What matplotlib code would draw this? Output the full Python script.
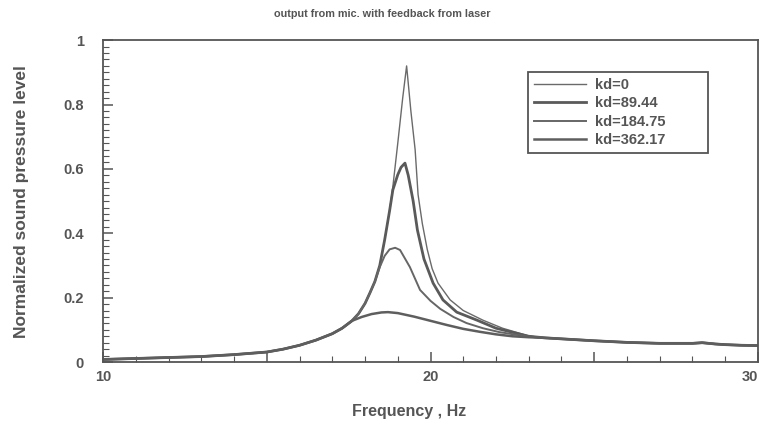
import matplotlib.pyplot as plt
from matplotlib.ticker import MultipleLocator, FixedLocator

# common low-frequency rise shared by all curves
base_f = [10.0, 11.0, 12.0, 13.0, 14.0, 15.0, 15.5, 16.0, 16.5, 17.0, 17.3, 17.6]
base_y = [0.008, 0.011, 0.014, 0.017, 0.023, 0.031, 0.040, 0.052, 0.068, 0.088, 0.105, 0.128]

# common high-frequency tail
tail_f = [23.5, 24.0, 25.0, 26.0, 27.0, 28.0, 28.3, 28.7, 29.0, 29.5, 30.0]
tail_y = [0.075, 0.072, 0.066, 0.061, 0.058, 0.058, 0.060, 0.056, 0.054, 0.052, 0.051]

kd0_f = [17.8, 18.0, 18.15, 18.3, 18.45, 18.6, 18.75, 18.85, 19.0, 19.15, 19.27,
         19.4, 19.53, 19.62, 19.75, 19.9, 20.05, 20.23, 20.6, 21.0, 21.6, 22.2, 22.7, 23.0]
kd0_y = [0.150, 0.182, 0.215, 0.250, 0.300, 0.380, 0.470, 0.545, 0.680, 0.820, 0.920,
         0.780, 0.660, 0.520, 0.430, 0.350, 0.290, 0.245, 0.193, 0.160, 0.130, 0.105, 0.090, 0.081]

kd89_f = [17.8, 18.0, 18.15, 18.3, 18.45, 18.6, 18.75, 18.85, 19.0, 19.1, 19.22,
          19.32, 19.47, 19.6, 19.8, 20.08, 20.38, 20.8, 21.42, 22.0, 22.6, 23.0]
kd89_y = [0.150, 0.182, 0.215, 0.250, 0.300, 0.380, 0.470, 0.535, 0.582, 0.605, 0.618,
          0.580, 0.500, 0.410, 0.320, 0.245, 0.193, 0.155, 0.130, 0.105, 0.090, 0.080]

kd184_f = [17.8, 18.0, 18.15, 18.3, 18.45, 18.6, 18.75, 18.92, 19.07, 19.37, 19.68,
           20.0, 20.3, 20.7, 21.1, 21.6, 22.1, 22.6, 23.0]
kd184_y = [0.150, 0.182, 0.215, 0.250, 0.295, 0.330, 0.350, 0.355, 0.348, 0.295, 0.224,
           0.190, 0.165, 0.140, 0.121, 0.105, 0.093, 0.085, 0.079]

kd362_f = [17.9, 18.2, 18.5, 18.7, 19.0, 19.5, 20.0, 20.5, 21.0, 21.5, 22.0, 22.5, 23.0]
kd362_y = [0.140, 0.149, 0.154, 0.155, 0.152, 0.141, 0.128, 0.115, 0.103, 0.094, 0.086, 0.080, 0.077]

labels = ["kd=0", "kd=89.44", "kd=184.75", "kd=362.17"]
widths = [1.0, 2.0, 1.4, 1.8]
colors = ["#6a6a6a", "#5a5a5a", "#666666", "#5e5e5e"]

x_ticks = [10, 15, 20, 25, 30]
x_ticklabels = ["10", "", "20", "", "30"]
y_ticks = [0, 0.2, 0.4, 0.6, 0.8, 1.0]
y_ticklabels = ["0", "0.2", "0.4", "0.6", "0.8", "1"]

curves = [(kd0_f, kd0_y), (kd89_f, kd89_y), (kd184_f, kd184_y), (kd362_f, kd362_y)]

ink = "#555555"
plt.rcParams["font.family"] = ["Liberation Sans", "DejaVu Sans"]
plt.rcParams["font.weight"] = "bold"

fig = plt.figure(figsize=(7.64, 4.32), dpi=100)
ax = fig.add_axes([0.135, 0.162, 0.857, 0.745])

for (f, y), lab, lw, c in zip(curves, labels, widths, colors):
    ax.plot(base_f + f + tail_f, base_y + y + tail_y, color=c, lw=lw, label=lab)

ax.set_xlim(10, 30)
ax.set_ylim(0, 1)

ax.xaxis.set_major_locator(FixedLocator(x_ticks))
ax.set_xticklabels(x_ticklabels)
ax.xaxis.set_minor_locator(MultipleLocator(1))
ax.yaxis.set_major_locator(FixedLocator(y_ticks))
ax.set_yticklabels(y_ticklabels)
ax.yaxis.set_minor_locator(MultipleLocator(0.02))

ax.tick_params(which="both", direction="in", colors=ink, labelcolor=ink, labelsize=10.5)
ax.tick_params(which="major", length=7, width=1.1)
ax.tick_params(which="minor", length=4, width=0.8)
ax.tick_params(axis="x", pad=6)
ax.tick_params(axis="y", pad=14)
ax.get_xticklabels()[-1].set_ha("right")

for s in ax.spines.values():
    s.set_color(ink)
    s.set_linewidth(1.3)

fig.text(0.5, 0.968, "output from mic. with feedback from laser", ha="center", va="center",
         fontsize=7.8, fontweight="bold", color=ink)
ax.set_ylabel("Normalized sound pressure level", fontsize=12.5, fontweight="bold", color=ink,
              va="center")
ax.yaxis.set_label_coords(-0.125, 0.5)
ax.set_xlabel("Frequency , Hz", fontsize=11.5, fontweight="bold", color=ink, va="center")
ax.xaxis.set_label_coords(0.468, -0.155)

leg = ax.legend(loc="upper left", bbox_to_anchor=(0.649, 0.643, 0.275, 0.258), mode="expand",
                borderaxespad=0, fancybox=False, prop={"size": 10.5, "weight": "bold"},
                handlelength=3.6, borderpad=0.4, labelspacing=0.3, handletextpad=0.6,
                framealpha=1)
leg.get_frame().set_edgecolor(ink)
leg.get_frame().set_linewidth(1.3)
for t in leg.get_texts():
    t.set_color(ink)

fig.savefig("out.png", dpi=100)
